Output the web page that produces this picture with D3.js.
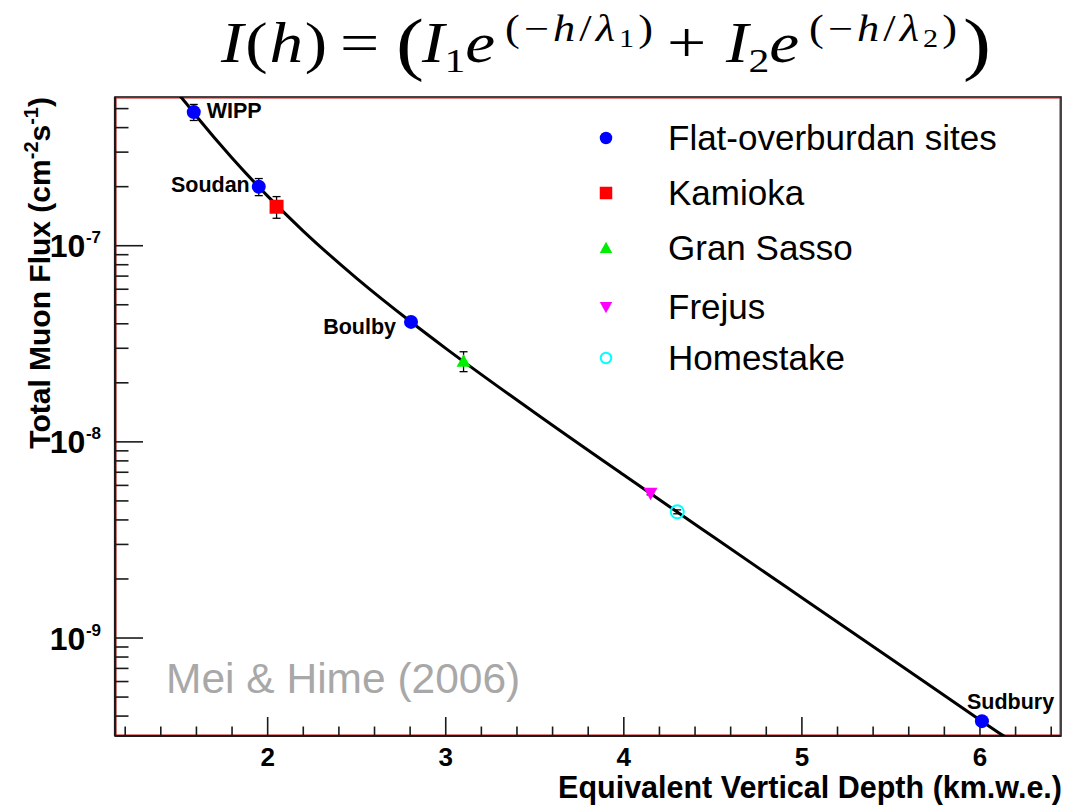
<!DOCTYPE html>
<html>
<head>
<meta charset="utf-8">
<script src="https://cdn.jsdelivr.net/npm/d3@7"></script>
<style>
  html, body { margin: 0; padding: 0; background: #fff; }
  svg { display: block; }
</style>
</head>
<body>
<svg id="chart" width="1086" height="805"></svg>
<script>
// Underground laboratory sites: depth (km.w.e.) and total muon flux (cm^-2 s^-1)
const sites   = ["WIPP", "Soudan", "Kamioka", "Boulby", "Gran Sasso", "Frejus", "Homestake", "Sudbury"];
const depth   = [1.585, 1.95, 2.05, 2.805, 3.10, 4.15, 4.30, 6.011];
const flux    = [4.8e-7, 2.0e-7, 1.58e-7, 4.09e-8, 2.58e-8, 5.47e-9, 4.4e-9, 3.77e-10];
const fluxErr = [0.45e-7, 0.2e-7, 0.2e-7, 0.1e-8, 0.3e-8, 0.1e-9, 0.1e-9, 0.1e-11];
const group   = ["flat", "flat", "kamioka", "flat", "gransasso", "frejus", "homestake", "flat"];
const labelled = ["WIPP", "Soudan", "Boulby", "Sudbury"];

// Two-exponential fit curve, sampled along depth
const fitDepth = [1.50, 1.52, 1.60, 1.80, 2.00, 2.20, 2.50, 2.80, 3.00, 3.50, 4.00, 4.50, 5.00, 5.50, 6.00, 6.13, 6.20];
const fitFlux  = [5.9e-7, 5.63e-7, 4.57e-7, 2.80e-7, 1.789e-7, 1.188e-7, 6.82e-8, 4.12e-8, 2.998e-8,
                  1.407e-8, 6.77e-9, 3.29e-9, 1.605e-9, 7.84e-10, 3.82e-10, 3.18e-10, 2.9e-10];

// Legend entries
const legendKeys   = ["flat", "kamioka", "gransasso", "frejus", "homestake"];
const legendLabels = ["Flat-overburdan sites", "Kamioka", "Gran Sasso", "Frejus", "Homestake"];

// Axis ticks
const xMajorTicks = [2, 3, 4, 5, 6];
const yMajorExponents = [-7, -8, -9];

const styles = {
  flat:      { shape: "circle",   fill: "#0000ff", stroke: "none" },
  kamioka:   { shape: "square",   fill: "#ff0000", stroke: "none" },
  gransasso: { shape: "triangle", fill: "#00ee00", stroke: "none" },
  frejus:    { shape: "invtri",   fill: "#ff00ff", stroke: "none" },
  homestake: { shape: "open",     fill: "none",    stroke: "#00ffff" }
};

const frame = { left: 115, right: 1061, top: 97, bottom: 736 };

const x = d3.scaleLinear().domain([1.1427, 6.455]).range([frame.left, frame.right]);
const y = d3.scaleLog().domain([3.166e-10, 5.73e-7]).range([frame.bottom, frame.top]);

const svg = d3.select("#chart");
const FONT = "'Liberation Sans', Arial, Helvetica, sans-serif";

// Clip region for the plotting frame
svg.append("defs").append("clipPath").attr("id", "frameClip")
  .append("rect")
  .attr("x", frame.left).attr("y", frame.top)
  .attr("width", frame.right - frame.left).attr("height", frame.bottom - frame.top);

// Frame: dark outline with a thin red inner border
svg.append("rect")
  .attr("x", frame.left + 1.2).attr("y", frame.top + 1.2)
  .attr("width", frame.right - frame.left - 2.4).attr("height", frame.bottom - frame.top - 2.4)
  .attr("fill", "none").attr("stroke", "#c00000").attr("stroke-width", 0.8).attr("opacity", 0.8);
svg.append("rect")
  .attr("x", frame.left).attr("y", frame.top)
  .attr("width", frame.right - frame.left).attr("height", frame.bottom - frame.top)
  .attr("fill", "none").attr("stroke", "#1a1a1a").attr("stroke-width", 1.6);

// X axis ticks (pointing into the frame)
const xTickVals = d3.range(1.2, 6.45, 0.2).map(v => +v.toFixed(1));
const xg = svg.append("g");
xg.selectAll("line")
  .data(xTickVals)
  .join("line")
  .attr("x1", d => x(d)).attr("x2", d => x(d))
  .attr("y1", frame.bottom)
  .attr("y2", d => frame.bottom - (xMajorTicks.includes(d) ? 19 : 9.5))
  .attr("stroke", "#1a1a1a").attr("stroke-width", 1.6);
xg.selectAll("text")
  .data(xMajorTicks)
  .join("text")
  .attr("x", d => x(d)).attr("y", 766)
  .attr("text-anchor", "middle")
  .attr("font-family", FONT).attr("font-weight", "bold").attr("font-size", 26)
  .attr("fill", "#000")
  .text(d => d3.format("d")(d));

// Axis lines
svg.append("line")
  .attr("x1", frame.left).attr("x2", frame.right)
  .attr("y1", frame.bottom).attr("y2", frame.bottom)
  .attr("stroke", "#1a1a1a").attr("stroke-width", 2.2);
svg.append("line")
  .attr("x1", frame.left).attr("x2", frame.left)
  .attr("y1", frame.top).attr("y2", frame.bottom)
  .attr("stroke", "#1a1a1a").attr("stroke-width", 2.2);

// Y axis ticks (log scale, major per decade, minor at 2..9)
const yTicks = y.ticks().filter(v => v >= y.domain()[0] && v <= y.domain()[1]);
const isMajor = v => Math.abs(Math.log10(v) - Math.round(Math.log10(v))) < 1e-6;
svg.append("g").selectAll("line")
  .data(yTicks)
  .join("line")
  .attr("x1", frame.left)
  .attr("x2", d => frame.left + (isMajor(d) ? 28 : 13.5))
  .attr("y1", d => y(d)).attr("y2", d => y(d))
  .attr("stroke", "#1a1a1a").attr("stroke-width", 1.6);

const yl = svg.append("g").selectAll("text")
  .data(yMajorExponents)
  .join("text")
  .attr("x", 101).attr("y", d => y(Math.pow(10, d)) + 11.5)
  .attr("text-anchor", "end")
  .attr("font-family", FONT).attr("font-weight", "bold").attr("font-size", 32)
  .attr("fill", "#000");
yl.append("tspan").text("10");
yl.append("tspan").attr("font-size", 17).attr("dy", -14).attr("dx", 0.5).text(d => String(d));

// Axis titles
svg.append("text")
  .attr("x", 1062).attr("y", 798)
  .attr("text-anchor", "end")
  .attr("font-family", FONT).attr("font-weight", "bold").attr("font-size", 30.5)
  .text("Equivalent Vertical Depth (km.w.e.)");

const yt = svg.append("text")
  .attr("transform", "translate(50,97) rotate(-90)")
  .attr("text-anchor", "end")
  .attr("font-family", FONT).attr("font-weight", "bold").attr("font-size", 30);
yt.append("tspan").text("Total Muon Flux (cm");
yt.append("tspan").attr("font-size", 20).attr("dy", -12).text("-2");
yt.append("tspan").attr("dy", 12).text("s");
yt.append("tspan").attr("font-size", 20).attr("dy", -12).text("-1");
yt.append("tspan").attr("dy", 12).text(")");

// Credit watermark
svg.append("text")
  .attr("x", 166).attr("y", 693)
  .attr("font-family", FONT).attr("font-size", 42.5)
  .attr("fill", "#a8a8a8")
  .text("Mei & Hime (2006)");

// Fit curve
const plot = svg.append("g").attr("clip-path", "url(#frameClip)");
const fitPts = fitDepth.map((h, i) => [h, fitFlux[i]]);
plot.append("path")
  .datum(fitPts)
  .attr("d", d3.line().x(d => x(d[0])).y(d => y(d[1])).curve(d3.curveMonotoneX))
  .attr("fill", "none").attr("stroke", "#000").attr("stroke-width", 3);

// Marker drawing
function drawMarker(sel, key, size) {
  const st = styles[key];
  const r = size / 2;
  if (st.shape === "circle") {
    sel.append("circle").attr("r", r).attr("fill", st.fill);
  } else if (st.shape === "open") {
    sel.append("circle").attr("r", r - 1).attr("fill", "none")
      .attr("stroke", st.stroke).attr("stroke-width", 2);
  } else if (st.shape === "square") {
    sel.append("rect").attr("x", -r).attr("y", -r).attr("width", size).attr("height", size).attr("fill", st.fill);
  } else if (st.shape === "triangle") {
    sel.append("path").attr("d", `M0,${-r}L${r},${r * 0.8}L${-r},${r * 0.8}Z`).attr("fill", st.fill);
  } else if (st.shape === "invtri") {
    sel.append("path").attr("d", `M0,${r}L${r},${-r * 0.8}L${-r},${-r * 0.8}Z`).attr("fill", st.fill);
  }
}

const pts = sites.map((s, i) => ({ site: s, h: depth[i], f: flux[i], e: fluxErr[i], g: group[i] }));

// Error bars with caps
const eb = plot.append("g").selectAll("g")
  .data(pts)
  .join("g")
  .attr("stroke", "#000").attr("stroke-width", 1.3);
eb.append("line")
  .attr("x1", d => x(d.h)).attr("x2", d => x(d.h))
  .attr("y1", d => y(d.f + d.e)).attr("y2", d => y(d.f - d.e));
eb.append("line")
  .attr("x1", d => x(d.h) - 4).attr("x2", d => x(d.h) + 4)
  .attr("y1", d => y(d.f + d.e)).attr("y2", d => y(d.f + d.e));
eb.append("line")
  .attr("x1", d => x(d.h) - 4).attr("x2", d => x(d.h) + 4)
  .attr("y1", d => y(d.f - d.e)).attr("y2", d => y(d.f - d.e));

// Data markers
plot.append("g").selectAll("g")
  .data(pts)
  .join("g")
  .attr("transform", d => `translate(${x(d.h)},${y(d.f)})`)
  .each(function (d) { drawMarker(d3.select(this), d.g, d.g === "homestake" ? 15 : 14); });

// Site labels
const labelPos = {
  WIPP:    { dx: 13,  dy: 6,   anchor: "start" },
  Soudan:  { dx: -9,  dy: 5,   anchor: "end" },
  Boulby:  { dx: -15, dy: 12,  anchor: "end" },
  Sudbury: { dx: -15, dy: -12, anchor: "start" }
};
svg.append("g").selectAll("text")
  .data(pts.filter(d => labelled.includes(d.site)))
  .join("text")
  .attr("x", d => x(d.h) + labelPos[d.site].dx)
  .attr("y", d => y(d.f) + labelPos[d.site].dy)
  .attr("text-anchor", d => labelPos[d.site].anchor)
  .attr("font-family", FONT).attr("font-weight", "bold").attr("font-size", 21.5)
  .attr("fill", "#000")
  .text(d => d.site);

// Legend
const legendRows = [138, 193, 248, 307, 358];
const lg = svg.append("g").selectAll("g")
  .data(legendKeys.map((k, i) => ({ k, label: legendLabels[i], yy: legendRows[i] })))
  .join("g");
lg.append("g")
  .attr("transform", d => `translate(606,${d.yy})`)
  .each(function (d) { drawMarker(d3.select(this), d.k, 12.5); });
lg.append("text")
  .attr("x", 668).attr("y", d => d.yy + 12)
  .attr("font-family", FONT).attr("font-size", 35)
  .attr("fill", "#000")
  .text(d => d.label);

// Fit formula title, typeset in groups; each group flows naturally and is
// widened slightly to give math-font proportions.
const SERIF = "'Liberation Serif', 'Times New Roman', serif";
// each group: { x, y, size, spacing, parts: [[text, italic, sizeFactor, dy]] }
const formulaGroups = [
  { x: 221, y: 62, size: 56, spacing: 1.5, parts: [["I", 1], ["(", 0], ["h", 1], [")", 0]] },
  { x: 340, y: 62, size: 58, spacing: 0, parts: [["=", 0]] },
  { x: 396, y: 67, size: 70, spacing: 0, parts: [["(", 0]] },
  { x: 422, y: 62, size: 56, spacing: 0, parts: [["I", 1], ["1", 0, 0.62, 10], ["e", 1, 1, -10]] },
  { x: 505, y: 41, size: 37, spacing: 3.4, parts: [["(", 0], ["−", 0], ["h", 1], ["/", 0], ["λ", 1], ["1", 0, 0.68, 6], [")", 0, 1, -6]] },
  { x: 667, y: 62, size: 58, spacing: 0, parts: [["+", 0]] },
  { x: 726, y: 62, size: 56, spacing: 0, parts: [["I", 1], ["2", 0, 0.62, 10], ["e", 1, 1, -10]] },
  { x: 809, y: 41, size: 37, spacing: 3.4, parts: [["(", 0], ["−", 0], ["h", 1], ["/", 0], ["λ", 1], ["2", 0, 0.68, 6], [")", 0, 1, -6]] },
  { x: 963, y: 67, size: 70, spacing: 0, parts: [[")", 0]] }
];
const fg = svg.append("g").selectAll("text")
  .data(formulaGroups)
  .join("text")
  .attr("transform", d => `translate(${d.x},${d.y}) scale(1.2,1)`)
  .attr("font-family", SERIF).attr("font-size", d => d.size)
  .attr("letter-spacing", d => d.spacing)
  .attr("fill", "#000");
fg.each(function (g) {
  const t = d3.select(this);
  g.parts.forEach(p => {
    const s = t.append("tspan").text(p[0]);
    if (p[1]) s.attr("font-style", "italic");
    if (p[2] && p[2] !== 1) s.attr("font-size", g.size * p[2]);
    if (p[3]) s.attr("dy", p[3]);
  });
});
</script>
</body>
</html>
